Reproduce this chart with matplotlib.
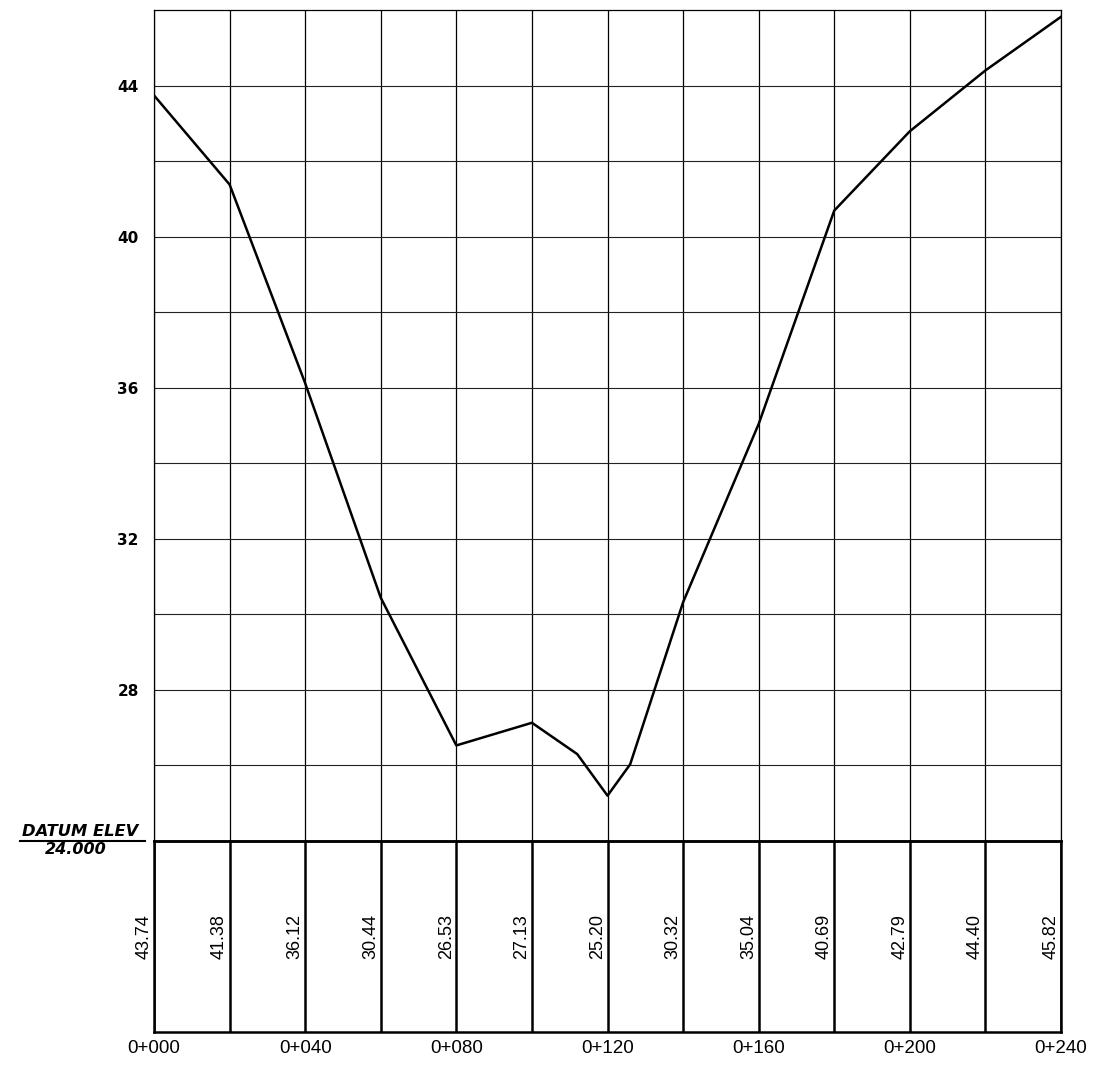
import numpy as np
import matplotlib.pyplot as plt

# stations (m) and ground elevations
stations = [0, 20, 40, 60, 80, 100, 112, 120, 126, 140, 160, 180, 200, 220, 240]
elevations = [43.74, 41.38, 36.12, 30.44, 26.53, 27.13, 26.30, 25.20, 26.03,
              30.32, 35.04, 40.69, 42.79, 44.40, 45.82]

# values written in the band below the datum line (every 20 m)
band_stations = [0, 20, 40, 60, 80, 100, 120, 140, 160, 180, 200, 220, 240]
band_labels = ['43.74', '41.38', '36.12', '30.44', '26.53', '27.13', '25.20',
               '30.32', '35.04', '40.69', '42.79', '44.40', '45.82']

chainage_ticks = [0, 40, 80, 120, 160, 200, 240]
elev_ticks = [28, 32, 36, 40, 44]
datum = 24.0
top_elev = 46.0

fig = plt.figure(figsize=(10.97, 10.65), dpi=100)
ax = fig.add_axes([154 / 1097, 1 - 841 / 1065, 907 / 1097, 831 / 1065])
band = fig.add_axes([154 / 1097, 1 - 1032 / 1065, 907 / 1097, 191 / 1065])
band.patch.set_visible(False)

# profile grid
ax.set_xlim(0, 240)
ax.set_ylim(datum, top_elev)
for s in band_stations:
    ax.axvline(s, color='black', lw=0.9, zorder=1)
for e in np.arange(datum + 2, top_elev, 2):
    ax.axhline(e, color='#222222', lw=0.8, zorder=1)
ax.plot(stations, elevations, color='black', lw=1.8, zorder=3)

ax.set_xticks([])
ax.set_yticks(elev_ticks)
ax.set_yticklabels([str(t) for t in elev_ticks], fontsize=11, fontweight='bold')
ax.tick_params(axis='y', length=0, pad=11)
for side in ['left', 'right', 'top']:
    ax.spines[side].set_linewidth(0.9)
ax.spines['bottom'].set_linewidth(1.8)

# band below datum
band.set_xlim(0, 240)
band.set_ylim(0, 1)
band.set_yticks([])
for s in band_stations:
    band.axvline(s, color='black', lw=1.8)
for s, lab in zip(band_stations, band_labels):
    band.text(s - 0.4, 0.5, lab, rotation=90, ha='right', va='center',
              fontsize=13, family='Liberation Sans')
for side in band.spines:
    band.spines[side].set_linewidth(1.8)
band.set_xticks(chainage_ticks)
band.set_xticklabels(['0+%03d' % c for c in chainage_ticks], fontsize=13.5,
                     family='Liberation Sans')
band.tick_params(axis='x', length=0, pad=6)

# datum annotation
fig.text(80 / 1097, 1 - 831 / 1065, 'DATUM ELEV', ha='center', va='center',
         fontsize=11.8, fontweight='bold', style='italic')
fig.text(76 / 1097, 1 - 850 / 1065, '24.000', ha='center', va='center',
         fontsize=11.5, fontweight='bold', style='italic')
fig.add_artist(plt.Line2D([20 / 1097, 145 / 1097], [1 - 841 / 1065, 1 - 841 / 1065],
                          color='black', lw=1.5))

fig.savefig('out.png', dpi=100)
